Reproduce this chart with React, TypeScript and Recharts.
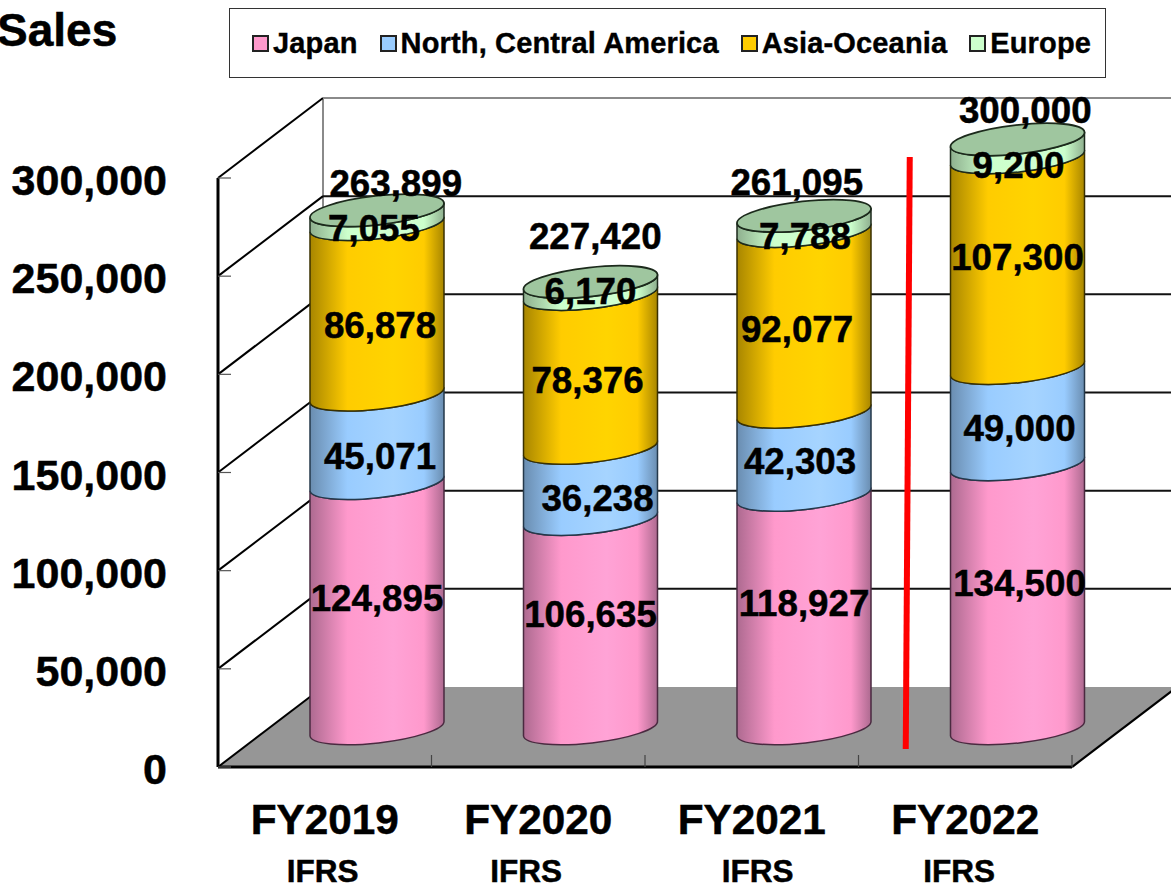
import React from 'react';
import { Bar, CartesianGrid, ComposedChart, LabelList, Legend, Line, ReferenceLine, XAxis, YAxis } from 'recharts';

const categories = ['FY2019', 'FY2020', 'FY2021', 'FY2022'];
const subLabels = ['IFRS', 'IFRS', 'IFRS', 'IFRS'];
const japan = [124895, 106635, 118927, 134500];
const northAmerica = [45071, 36238, 42303, 49000];
const asiaOceania = [86878, 78376, 92077, 107300];
const europe = [7055, 6170, 7788, 9200];
const totals = [263899, 227420, 261095, 300000];
const yTicks = [0, 50000, 100000, 150000, 200000, 250000, 300000];

const chartData = categories.map((name, i) => ({
  name,
  japan: japan[i],
  northAmerica: northAmerica[i],
  asiaOceania: asiaOceania[i],
  europe: europe[i],
  total: totals[i],
}));

const FONT = '"Liberation Sans", Arial, sans-serif';

// fake 3d: walls are pushed back by this much, the cylinders sit half way in
const WALL_DX = 105;
const WALL_DY = -80;
const BAR_DX = 52;
const BAR_DY = -38.5;
const TILT_DY = 7.5;
const RY = 14.5;

// hand nudges so the value labels land where the original has them, [dx, dy] per category
const japanNudge = [[0, -8], [0, -10], [0, -9], [2, -13]];
const northNudge = [[3, 17], [7, 14], [-4, 8], [2, 12]];
const asiaNudge = [[3, 15], [-3, 9], [-7, 7], [0, -6]];
const europeNudge = [[-3, 11], [0, 3], [1, 12], [1, 16]];
const totalNudge = [[19, -27], [5, -46], [-7, -34], [8, -30]];
const subLabelDx = [-2, -12, 6, -6];

// the reference text is a little heavier than plain bold
const heavy = { stroke: '#000', strokeWidth: 0.5 };

const gradient = (id: string, color: string, light: string, dark: string) => (
  <linearGradient id={id} x1="0" y1="0" x2="1" y2="0" key={id}>
    <stop offset="0%" stopColor={dark} />
    <stop offset="28%" stopColor={color} />
    <stop offset="62%" stopColor={light} />
    <stop offset="85%" stopColor={color} />
    <stop offset="100%" stopColor={dark} />
  </linearGradient>
);

const cylinder = (gradId: string, edge: string, cap?: string) => (props: any) => {
  const { x, y, width, height } = props;
  const cx = x + width / 2 + BAR_DX;
  const top = y + BAR_DY;
  const bottom = y + height + BAR_DY;
  const half = width / 2;
  const rx = Math.sqrt(half * half + TILT_DY * TILT_DY);
  const angle = (-Math.atan2(TILT_DY, half) * 180) / Math.PI;
  const d = [
    `M${cx - half},${top + TILT_DY}`,
    `L${cx - half},${bottom + TILT_DY}`,
    `A${rx},${RY} ${angle} 0 0 ${cx + half},${bottom - TILT_DY}`,
    `L${cx + half},${top - TILT_DY}`,
    `A${rx},${RY} ${angle} 0 1 ${cx - half},${top + TILT_DY}`,
    'Z',
  ].join(' ');
  return (
    <g>
      <path d={d} fill={`url(#${gradId})`} stroke={edge} strokeWidth={1.5} />
      {cap && (
        <ellipse
          cx={cx}
          cy={top}
          rx={rx}
          ry={RY}
          transform={`rotate(${angle} ${cx} ${top})`}
          fill={cap}
          stroke="#1c2a1c"
          strokeWidth={1.8}
        />
      )}
    </g>
  );
};

const valueLabel = (nudge: number[][], onTop: boolean) => (props: any) => {
  const box = props.viewBox ?? props;
  const { x, y, width = 0, height = 0 } = box;
  const [dx, dy] = nudge[props.index];
  const py = onTop ? y : y + height / 2;
  return (
    <text
      x={x + width / 2 + BAR_DX + dx}
      y={py + BAR_DY + dy + 13}
      textAnchor="middle"
      fontFamily={FONT}
      fontWeight="bold"
      fontSize={36.7}
      fill="#000"
      {...heavy}
    >
      {Number(props.value).toLocaleString('en-US')}
    </text>
  );
};

const gridLine = (props: any) => {
  const { x1, x2, y1, y, height } = props;
  const isFloor = Math.abs(y1 - (y + height)) < 0.5;
  const isTop = Math.abs(y1 - y) < 0.5;
  return (
    <g key={props.key}>
      {isFloor && (
        <polygon
          points={`${x1},${y1} ${x1 + WALL_DX},${y1 + WALL_DY} ${x2 + WALL_DX},${y1 + WALL_DY} ${x2},${y1}`}
          fill="#969696"
        />
      )}
      {isFloor && <line x1={x2} y1={y1} x2={x2 + WALL_DX} y2={y1 + WALL_DY} stroke="#000" strokeWidth={2.2} />}
      {isFloor && <line x1={x1 + WALL_DX} y1={y1 + WALL_DY} x2={x1 + WALL_DX} y2={y + WALL_DY} stroke="#8a8a8a" strokeWidth={2} />}
      <line x1={x1} y1={y1} x2={x1 + WALL_DX} y2={y1 + WALL_DY} stroke="#000" strokeWidth={2} />
      {!isFloor && (
        <line
          x1={x1 + WALL_DX}
          y1={y1 + WALL_DY}
          x2={x2 + WALL_DX}
          y2={y1 + WALL_DY}
          stroke={isTop ? '#8a8a8a' : '#111'}
          strokeWidth={2}
        />
      )}
    </g>
  );
};

const YTick = (props: any) => {
  const { x, y, payload } = props;
  return (
    <g>
      <line x1={x} y1={y} x2={x + 13} y2={y} stroke="#555" strokeWidth={1.2} />
      <text x={x - 51} y={y + 17} textAnchor="end" fontFamily={FONT} fontWeight="bold" fontSize={43} fill="#000" {...heavy}>
        {Number(payload.value).toLocaleString('en-US')}
      </text>
    </g>
  );
};

const XTick = (props: any) => {
  const { x, y, payload, index } = props;
  const slot = 213.5;
  return (
    <g>
      <line x1={x + slot / 2} y1={y - 12} x2={x + slot / 2} y2={y} stroke="#444" strokeWidth={1.2} />
      <text x={x} y={y + 67} textAnchor="middle" fontFamily={FONT} fontWeight="bold" fontSize={42.3} fill="#000" {...heavy}>
        {payload.value}
      </text>
      <text x={x + subLabelDx[index]} y={y + 115} textAnchor="middle" fontFamily={FONT} fontWeight="bold" fontSize={31.5} fill="#000" {...heavy}>
        {subLabels[index]}
      </text>
    </g>
  );
};

const legendOrder = ['Japan', 'North, Central America', 'Asia-Oceania', 'Europe'];

const LegendBox = ({ payload }: any) => {
  const items = (payload ?? [])
    .filter((item: any) => legendOrder.includes(item.value))
    .sort((a: any, b: any) => legendOrder.indexOf(a.value) - legendOrder.indexOf(b.value));
  return (
    <div
      style={{
        boxSizing: 'border-box',
        width: 877,
        height: 70,
        border: '1px solid #333',
        display: 'flex',
        alignItems: 'center',
        paddingLeft: 22,
        gap: 22,
        background: '#fff',
        fontFamily: FONT,
        fontWeight: 'bold',
        fontSize: 29,
        letterSpacing: 0.15,
        WebkitTextStroke: '0.4px #000',
        color: '#000',
        whiteSpace: 'nowrap',
      }}
    >
      {items.map((item: any) => (
        <span key={item.value} style={{ display: 'flex', alignItems: 'center' }}>
          <span
            style={{
              boxSizing: 'border-box',
              width: 17,
              height: 17,
              background: item.color,
              border: '2px solid #222',
              marginRight: 4,
            }}
          />
          {item.value}
        </span>
      ))}
    </div>
  );
};

const redLine = (props: any) => (
  <line
    x1={props.x1 - 55.5}
    y1={Math.min(props.y1, props.y2) - 21}
    x2={props.x1 - 59.5}
    y2={Math.max(props.y1, props.y2) - 18}
    stroke="#ff0000"
    strokeWidth={6}
  />
);

export default function App() {
  return (
    <div style={{ position: 'absolute', left: 0, top: 0, width: 1171, height: 887, overflow: 'hidden' }}>
      <ComposedChart
        width={1171}
        height={887}
        data={chartData}
        margin={{ top: 178, right: 99, bottom: 0, left: 8 }}
        barCategoryGap={0}
        style={{ overflow: 'hidden' }}
      >
        <defs>
          {gradient('gradJapan', '#FF99CC', '#FFA3D6', '#AD6A90')}
          {gradient('gradNorth', '#99CCFF', '#A6D4FF', '#6A8DB0')}
          {gradient('gradAsia', '#FFCC00', '#FFD400', '#A88600')}
          {gradient('gradEurope', '#CCFFCC', '#D0FFD0', '#8FB08F')}
        </defs>
        <text x={-3} y={46} fontFamily={FONT} fontWeight="bold" fontSize={46} fill="#000" {...heavy}>
          Sales
        </text>
        <CartesianGrid horizontal={gridLine} vertical={false} />
        <XAxis
          dataKey="name"
          tick={XTick}
          tickLine={false}
          tickSize={0}
          tickMargin={0}
          axisLine={{ stroke: '#000', strokeWidth: 3 }}
          height={120}
          interval={0}
        />
        <YAxis
          type="number"
          domain={[0, 300000]}
          ticks={yTicks}
          tick={YTick}
          tickLine={false}
          tickSize={0}
          tickMargin={0}
          axisLine={{ stroke: '#000', strokeWidth: 3 }}
          width={210}
          interval={0}
        />
        <Legend
          layout="vertical"
          align="center"
          verticalAlign="middle"
          content={LegendBox}
          wrapperStyle={{ position: 'absolute', left: 229, top: 8, width: 877, height: 70 }}
        />
        <ReferenceLine x="FY2022" shape={redLine} />
        <Bar dataKey="japan" name="Japan" stackId="a" fill="#FF99CC" barSize={134} isAnimationActive={false} shape={cylinder('gradJapan', '#4a2a40')}>
          <LabelList dataKey="japan" content={valueLabel(japanNudge, false)} />
        </Bar>
        <Bar dataKey="northAmerica" name="North, Central America" stackId="a" fill="#99CCFF" barSize={134} isAnimationActive={false} shape={cylinder('gradNorth', '#24384a')}>
          <LabelList dataKey="northAmerica" content={valueLabel(northNudge, false)} />
        </Bar>
        <Bar dataKey="asiaOceania" name="Asia-Oceania" stackId="a" fill="#FFCC00" barSize={134} isAnimationActive={false} shape={cylinder('gradAsia', '#3a3000')}>
          <LabelList dataKey="asiaOceania" content={valueLabel(asiaNudge, false)} />
        </Bar>
        <Bar dataKey="europe" name="Europe" stackId="a" fill="#CCFFCC" barSize={134} isAnimationActive={false} shape={cylinder('gradEurope', '#1c2a1c', '#9FC69F')}>
          <LabelList dataKey="europe" content={valueLabel(europeNudge, false)} />
        </Bar>
        <Line dataKey="total" stroke="none" dot={false} legendType="none" isAnimationActive={false}>
          <LabelList dataKey="total" content={valueLabel(totalNudge, true)} />
        </Line>
      </ComposedChart>
    </div>
  );
}
